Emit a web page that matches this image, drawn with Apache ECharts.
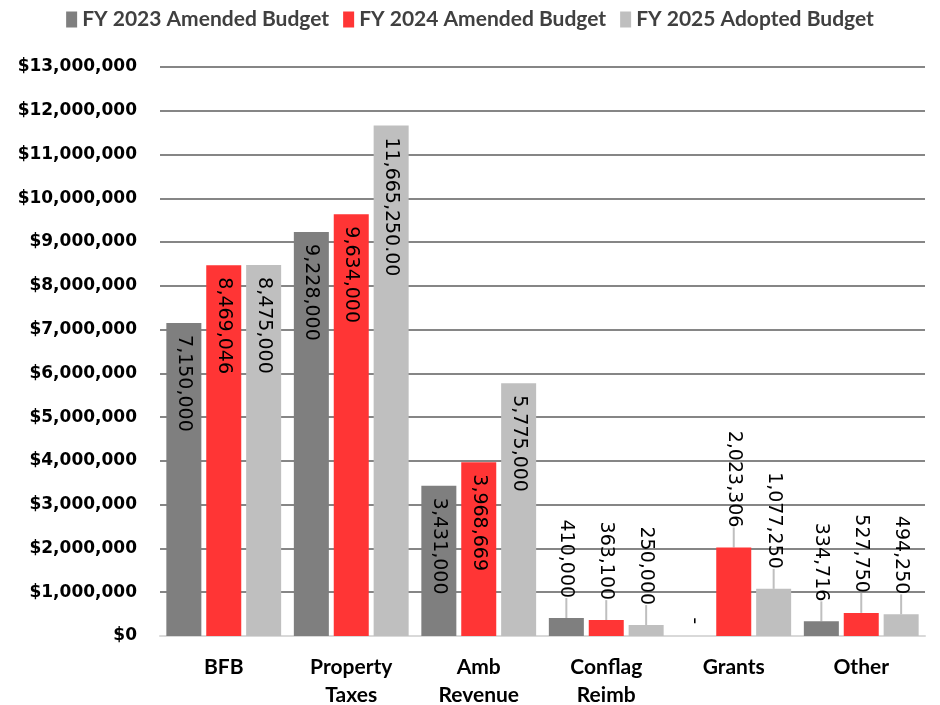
<!DOCTYPE html>
<html>
<head>
<meta charset="UTF-8">
<title>Budget Comparison</title>
<style>
    html, body {margin: 0; padding: 0; background: #fff;}
    #chart {width: 940px; height: 705px;}
</style>
</head>
<body>
<div id="chart"></div>
<script src="https://cdn.jsdelivr.net/npm/echarts@6/dist/echarts.min.js"></script>
<script>
var categories = ['BFB', 'Property\nTaxes', 'Amb\nRevenue', 'Conflag\nReimb', 'Grants', 'Other'];
var seriesNames = ['FY 2023 Amended Budget', 'FY 2024 Amended Budget', 'FY 2025 Adopted Budget'];
var fy2023 = [7150000, 9228000, 3431000, 410000, 0, 334716];
var fy2024 = [8469046, 9634000, 3968669, 363100, 2023306, 527750];
var fy2025 = [8475000, 11665250, 5775000, 250000, 1077250, 494250];
// label text as printed on the chart
var fy2023Text = ['7,150,000', '9,228,000', '3,431,000', '410,000', '-', '334,716'];
var fy2024Text = ['8,469,046', '9,634,000', '3,968,669', '363,100', '2,023,306', '527,750'];
var fy2025Text = ['8,475,000', '11,665,250.00', '5,775,000', '250,000', '1,077,250', '494,250'];
var colors = ['#7f7f7f', '#ff3535', '#bfbfbf'];

function money(v) {
    return '$' + v.toLocaleString('en-US');
}

// big bars get their label inside, small ones above with a guide line
function buildData(vals, texts) {
    return vals.map(function (v, i) {
        var inside = v >= 3000000;
        return {
            value: v,
            label: {
                position: inside ? 'insideTop' : 'top',
                align: inside ? 'left' : 'right',
                distance: inside ? 12 : (v > 0 ? 20 : 12),
                formatter: texts[i]
            },
            labelLine: {show: !inside && v > 0}
        };
    });
}

function makeSeries(name, vals, texts, color) {
    return {
        name: name,
        type: 'bar',
        barWidth: 35,
        barGap: '14%',
        data: buildData(vals, texts),
        itemStyle: {color: color},
        label: {
            show: true,
            rotate: -90,
            verticalAlign: 'middle',
            color: '#000',
            fontFamily: 'DejaVu Sans',
            fontSize: 19
        },
        labelLine: {
            lineStyle: {color: '#bfbfbf', width: 2}
        }
    };
}

var chart = echarts.init(document.getElementById('chart'));
var option = {
    animation: false,
    color: colors,
    legend: {
        top: 4,
        left: 'center',
        itemWidth: 11,
        itemHeight: 16,
        itemGap: 14,
        icon: 'rect',
        textStyle: {
            fontFamily: 'Lato',
            fontWeight: 'bold',
            fontSize: 21,
            color: '#404040'
        },
        data: seriesNames
    },
    grid: {left: 160, right: 15, top: 67, bottom: 69, outerBoundsMode: 'none'},
    xAxis: {
        type: 'category',
        data: categories,
        axisTick: {show: false},
        axisLine: {lineStyle: {color: '#d9d9d9', width: 2}},
        axisLabel: {
            margin: 17,
            color: '#000',
            fontFamily: 'Lato',
            fontWeight: 'bold',
            fontSize: 21,
            lineHeight: 28
        }
    },
    yAxis: {
        type: 'value',
        min: 0,
        max: 13000000,
        interval: 1000000,
        axisLine: {show: false},
        axisTick: {show: false},
        splitLine: {lineStyle: {color: '#868686', width: 2}},
        axisLabel: {
            margin: 23,
            color: '#000',
            fontFamily: 'DejaVu Sans',
            fontWeight: 'bold',
            fontSize: 17,
            formatter: money
        }
    },
    series: [
        makeSeries(seriesNames[0], fy2023, fy2023Text, colors[0]),
        makeSeries(seriesNames[1], fy2024, fy2024Text, colors[1]),
        makeSeries(seriesNames[2], fy2025, fy2025Text, colors[2])
    ]
};
chart.setOption(option);
</script>
</body>
</html>
